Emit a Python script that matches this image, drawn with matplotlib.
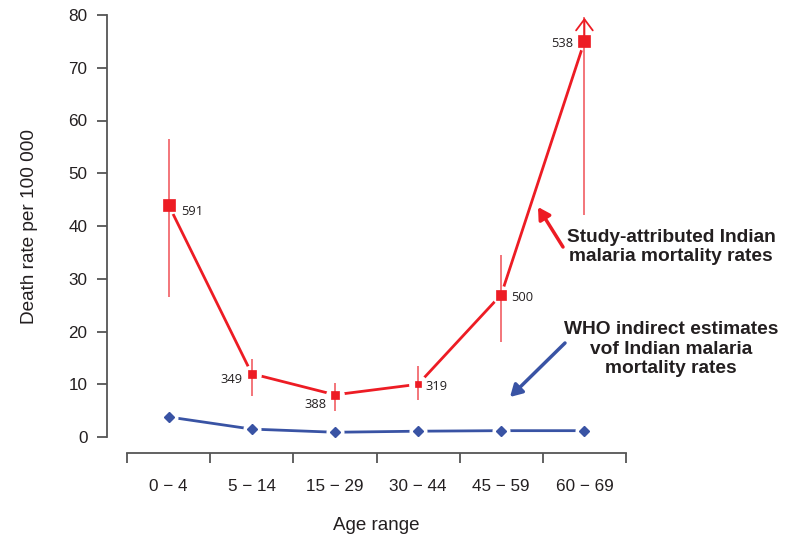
import matplotlib
matplotlib.use("Agg")
import matplotlib.pyplot as plt
import numpy as np

# ---- data ----
age_groups = ["0 \u2212 4", "5 \u2212 14", "15 \u2212 29", "30 \u2212 44", "45 \u2212 59", "60 \u2212 69"]
study_rate = [44.0, 12.0, 8.0, 10.0, 27.0, 75.0]
study_low = [26.5, 7.8, 5.0, 7.0, 18.0, 42.0]
study_high = [56.5, 14.8, 10.3, 13.5, 34.5, 80.0]
study_deaths = [591, 349, 388, 319, 500, 538]
who_rate = [3.8, 1.5, 0.9, 1.1, 1.2, 1.2]

W, H = 797, 536
RED = "#ED1C24"
RED_LIGHT = "#F26A70"
BLUE = "#3953A4"
TXT = "#231F20"
SPINE = "#555555"

plt.rcParams["font.family"] = ["Liberation Sans", "DejaVu Sans"]

fig = plt.figure(figsize=(W / 100, H / 100), dpi=100)
fig.patch.set_facecolor("white")

def fx(x):
    return x / W

def fy(y):
    return 1 - y / H

ax = fig.add_axes([fx(127), fy(437), fx(626) - fx(127), fy(15) - fy(437)])
ax.set_xlim(0, len(age_groups))
ax.set_ylim(0, 80)

x = np.arange(len(age_groups)) + 0.5

# connecting lines
ax.plot(x, study_rate, color=RED, lw=2.0, zorder=2, clip_on=False)
ax.plot(x, who_rate, color=BLUE, lw=2.0, zorder=2, clip_on=False)
# gaps around points (white halos)
ax.plot(x, study_rate, ls="none", marker="o", ms=13.5, mfc="white", mec="none", zorder=3, clip_on=False)
ax.plot(x, who_rate, ls="none", marker="o", ms=13, mfc="white", mec="none", zorder=3, clip_on=False)

# error bars
for i in range(len(x)):
    if i == len(x) - 1:
        ax.vlines(x[i], study_low[i], study_high[i] - 0.3, color=RED_LIGHT, lw=1.3, zorder=4, clip_on=False)
        ax.annotate("", xy=(x[i], study_high[i]), xytext=(x[i], study_high[i] - 6),
                    arrowprops=dict(arrowstyle="->,head_length=0.8,head_width=0.6", color=RED, lw=1.3),
                    zorder=4, annotation_clip=False)
    else:
        ax.vlines(x[i], study_low[i], study_high[i], color=RED_LIGHT, lw=1.3, zorder=4, clip_on=False)

# markers
sizes = [d / 591 * 9.0 for d in study_deaths]
for i in range(len(x)):
    ax.plot(x[i], study_rate[i], marker="s", ms=sizes[i], mfc=RED, mec=RED, mew=0.5, zorder=5, clip_on=False)
ax.plot(x, who_rate, ls="none", marker="D", ms=4.6, mfc=BLUE, mec=BLUE, zorder=5, clip_on=False)

# death count labels
offsets = [(13, -7, "left"), (-9, -6, "right"), (-8, -10, "right"),
           (7, -2, "left"), (10, -3, "left"), (-11, -2, "right")]
for i in range(len(x)):
    dx, dy, ha = offsets[i]
    ax.annotate(str(study_deaths[i]), (x[i], study_rate[i]), xytext=(dx * 0.72, dy * 0.72),
                textcoords="offset points", ha=ha, va="center", fontsize=9.3,
                family=["Open Sans", "DejaVu Sans"], color=TXT, zorder=6)

# axes styling
for s in ["top", "right"]:
    ax.spines[s].set_visible(False)
ax.spines["left"].set_position(("outward", 14.4))
ax.spines["left"].set_bounds(0, 80)
ax.spines["bottom"].set_position(("outward", 11.5))
for s in ["left", "bottom"]:
    ax.spines[s].set_color(SPINE)
    ax.spines[s].set_linewidth(1.3)

ax.set_yticks(np.arange(0, 81, 10))
ax.tick_params(axis="y", length=7, width=1.3, color=SPINE, labelsize=12.3, pad=7, labelcolor=TXT)

ax.set_xticks(np.arange(0, len(age_groups) + 1))
ax.set_xticklabels([])
ax.set_xticks(x, minor=True)
ax.set_xticklabels(age_groups, minor=True)
ax.tick_params(axis="x", which="major", length=7, width=1.3, color=SPINE)
ax.tick_params(axis="x", which="minor", length=0, labelsize=12.3, pad=19, labelcolor=TXT)

fig.text(fx(376), fy(525), "Age range", ha="center", va="center", fontsize=13.5, color=TXT)
fig.text(fx(30), fy(227), "Death rate per 100 000", ha="center", va="center", rotation=90,
         fontsize=13.7, color=TXT)

# annotations
fig.text(fx(671), fy(247), "Study-attributed Indian\nmalaria mortality rates", ha="center", va="center",
         fontsize=13.8, fontweight="bold", color=TXT, linespacing=1.22)
fig.text(fx(671), fy(349), "WHO indirect estimates\nvof Indian malaria\nmortality rates", ha="center",
         va="center", fontsize=13.8, fontweight="bold", color=TXT, linespacing=1.22)

fig.add_artist(matplotlib.patches.FancyArrowPatch(
    (fx(563), fy(247)), (fx(538), fy(207)), transform=fig.transFigure,
    arrowstyle="-|>,head_length=7,head_width=4", color=RED, lw=2.5, shrinkA=0, shrinkB=0))
fig.add_artist(matplotlib.patches.FancyArrowPatch(
    (fx(565), fy(343)), (fx(510), fy(397)), transform=fig.transFigure,
    arrowstyle="-|>,head_length=7,head_width=4", color=BLUE, lw=2.5, shrinkA=0, shrinkB=0))

fig.savefig("out.png", dpi=100, facecolor="white")
